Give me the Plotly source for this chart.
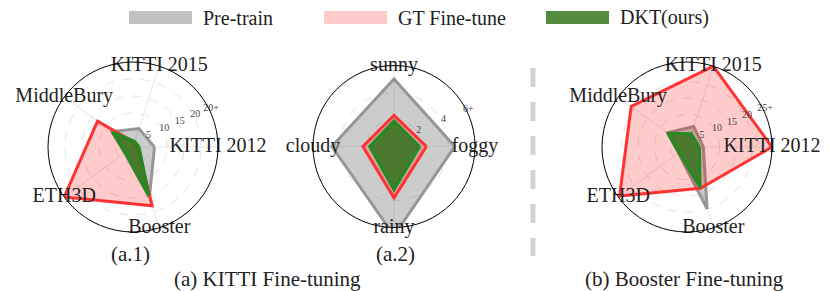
import plotly.graph_objects as go

W, H = 830, 291

# ---------------- data ----------------
stereo_cats = ["KITTI 2012", "KITTI 2015", "MiddleBury", "ETH3D", "Booster"]
weather_cats = ["foggy", "sunny", "cloudy", "rainy"]

pre_a1 = [6.3, 5.7, 7.7, 3.0, 15.6]
gt_a1 = [1.5, 1.4, 12.9, 25.0, 18.2]
dkt_a1 = [1.8, 1.7, 7.4, 2.8, 15.0]

pre_a2 = [4.5, 5.0, 4.6, 6.6]
gt_a2 = [2.4, 2.3, 2.3, 3.8]
dkt_a2 = [1.9, 1.9, 1.8, 3.2]

pre_b = [5.0, 6.6, 7.4, 3.2, 19.9]
gt_b = [26.0, 26.0, 21.1, 25.5, 13.3]
dkt_b = [3.8, 4.3, 7.2, 3.0, 13.0]

a1_tickvals = [5, 10, 15, 20, 25]
a1_ticktext = ["5", "10", "15", "20", "20+"]
a2_tickvals = [2, 4, 6]
a2_ticktext = ["2", "4", "6+"]
b_tickvals = [5, 10, 15, 20, 26]
b_ticktext = ["5", "10", "15", "20", "25+"]

series_names = ["Pre-train", "GT Fine-tune", "DKT(ours)"]
captions = ["(a.1)", "(a.2)", "(a) KITTI Fine-tuning", "(b) Booster Fine-tuning"]

# ---------------- styles ----------------
FONT = "Liberation Serif"
fills = ["rgba(128,128,128,0.4)", "rgba(255,0,0,0.2)", "rgba(40,110,15,0.8)"]
swatches = ["rgba(128,128,128,0.48)", "rgba(255,0,0,0.2)", "rgba(40,110,15,0.8)"]
lines = ["rgb(150,150,150)", "rgb(255,50,50)", "rgb(34,139,34)"]
TICK_ANGLE = 23.5


def dom(cx, cy, R):
    return dict(x=[(cx - R) / W, (cx + R) / W], y=[(H - cy - R) / H, (H - cy + R) / H])


def angles(cats):
    n = len(cats)
    return [i * 360.0 / n for i in range(n)]


fig = go.Figure()


def add_radar(polar, cats, series, rmax, tv, tt):
    th = angles(cats)
    for name, vals, fc, lc in zip(series_names, series, fills, lines):
        fig.add_trace(go.Scatterpolar(
            r=list(vals) + [vals[0]], theta=th + [th[0]], thetaunit="degrees",
            fill="toself", fillcolor=fc, mode="lines",
            line=dict(color=lc, width=3), name=name, showlegend=False,
            cliponaxis=False, subplot=polar, hoverinfo="skip"))
    # category labels on the rim
    fig.add_trace(go.Scatterpolar(
        r=[rmax] * len(cats), theta=th, mode="text", text=cats,
        textposition="middle center",
        textfont=dict(family=FONT, size=20, color="#222"),
        showlegend=False, cliponaxis=False, subplot=polar, hoverinfo="skip"))
    # radial tick labels
    fig.add_trace(go.Scatterpolar(
        r=tv, theta=[TICK_ANGLE] * len(tv), mode="text", text=tt,
        textposition="top center",
        textfont=dict(family=FONT, size=10, color="#444"),
        showlegend=False, cliponaxis=False, subplot=polar, hoverinfo="skip"))


add_radar("polar", stereo_cats, [pre_a1, gt_a1, dkt_a1], 25, a1_tickvals, a1_ticktext)
add_radar("polar2", weather_cats, [pre_a2, gt_a2, dkt_a2], 6, a2_tickvals, a2_ticktext)
add_radar("polar3", stereo_cats, [pre_b, gt_b, dkt_b], 26, b_tickvals, b_ticktext)


def polar_layout(domain, rmax, tv, cats):
    return dict(
        domain=domain, bgcolor="white",
        radialaxis=dict(range=[0, rmax], tickvals=tv, showline=False, showticklabels=False,
                        ticks="", angle=22,
                        gridcolor="#e3e3e3", griddash="dash", gridwidth=1),
        angularaxis=dict(type="linear", thetaunit="degrees",
                         tickmode="array", tickvals=angles(cats),
                         rotation=0, direction="counterclockwise",
                         showticklabels=False, ticks="",
                         linecolor="black", linewidth=1,
                         gridcolor="#e6e6e6", gridwidth=1))


fig.update_layout(
    width=W, height=H, margin=dict(l=0, r=0, t=0, b=0),
    paper_bgcolor="white", plot_bgcolor="white",
    polar=polar_layout(dom(133, 147, 85), 25, a1_tickvals, stereo_cats),
    polar2=polar_layout(dom(394, 146.5, 81), 6, a2_tickvals, weather_cats),
    polar3=polar_layout(dom(687, 147, 85), 26, b_tickvals, stereo_cats),
)

# legend (manual)
sw_x = [129, 324, 546]
shapes = []
annotations = []
for i, (name, fc) in enumerate(zip(series_names, swatches)):
    x0 = sw_x[i]
    shapes.append(dict(type="rect", xref="paper", yref="paper",
                       x0=x0 / W, x1=(x0 + 63) / W, y0=(H - 24) / H, y1=(H - 11) / H,
                       fillcolor=fc, line=dict(width=0)))
    annotations.append(dict(x=(x0 + 72) / W, y=(H - 17.5) / H, xref="paper", yref="paper",
                            text=name, showarrow=False, xanchor="left", yanchor="middle",
                            font=dict(family=FONT, size=20, color="#222")))

# separator
shapes.append(dict(type="line", xref="paper", yref="paper",
                   x0=533 / W, x1=533 / W, y0=(H - 68) / H, y1=(H - 256) / H,
                   line=dict(color="#d3d3d3", width=5, dash="19px,15px")))

cap_pos = [(130, 254), (395, 254), (267, 279), (684, 279)]
for text, (cx, cy) in zip(captions, cap_pos):
    annotations.append(dict(x=cx / W, y=(H - cy) / H, xref="paper", yref="paper",
                            text=text, showarrow=False, xanchor="center", yanchor="middle",
                            font=dict(family=FONT, size=21, color="#222")))

fig.update_layout(shapes=shapes, annotations=annotations)
fig.write_html("out.html", config={"displayModeBar": False},
               post_script="document.body.style.margin='0';document.body.style.padding='0';")
